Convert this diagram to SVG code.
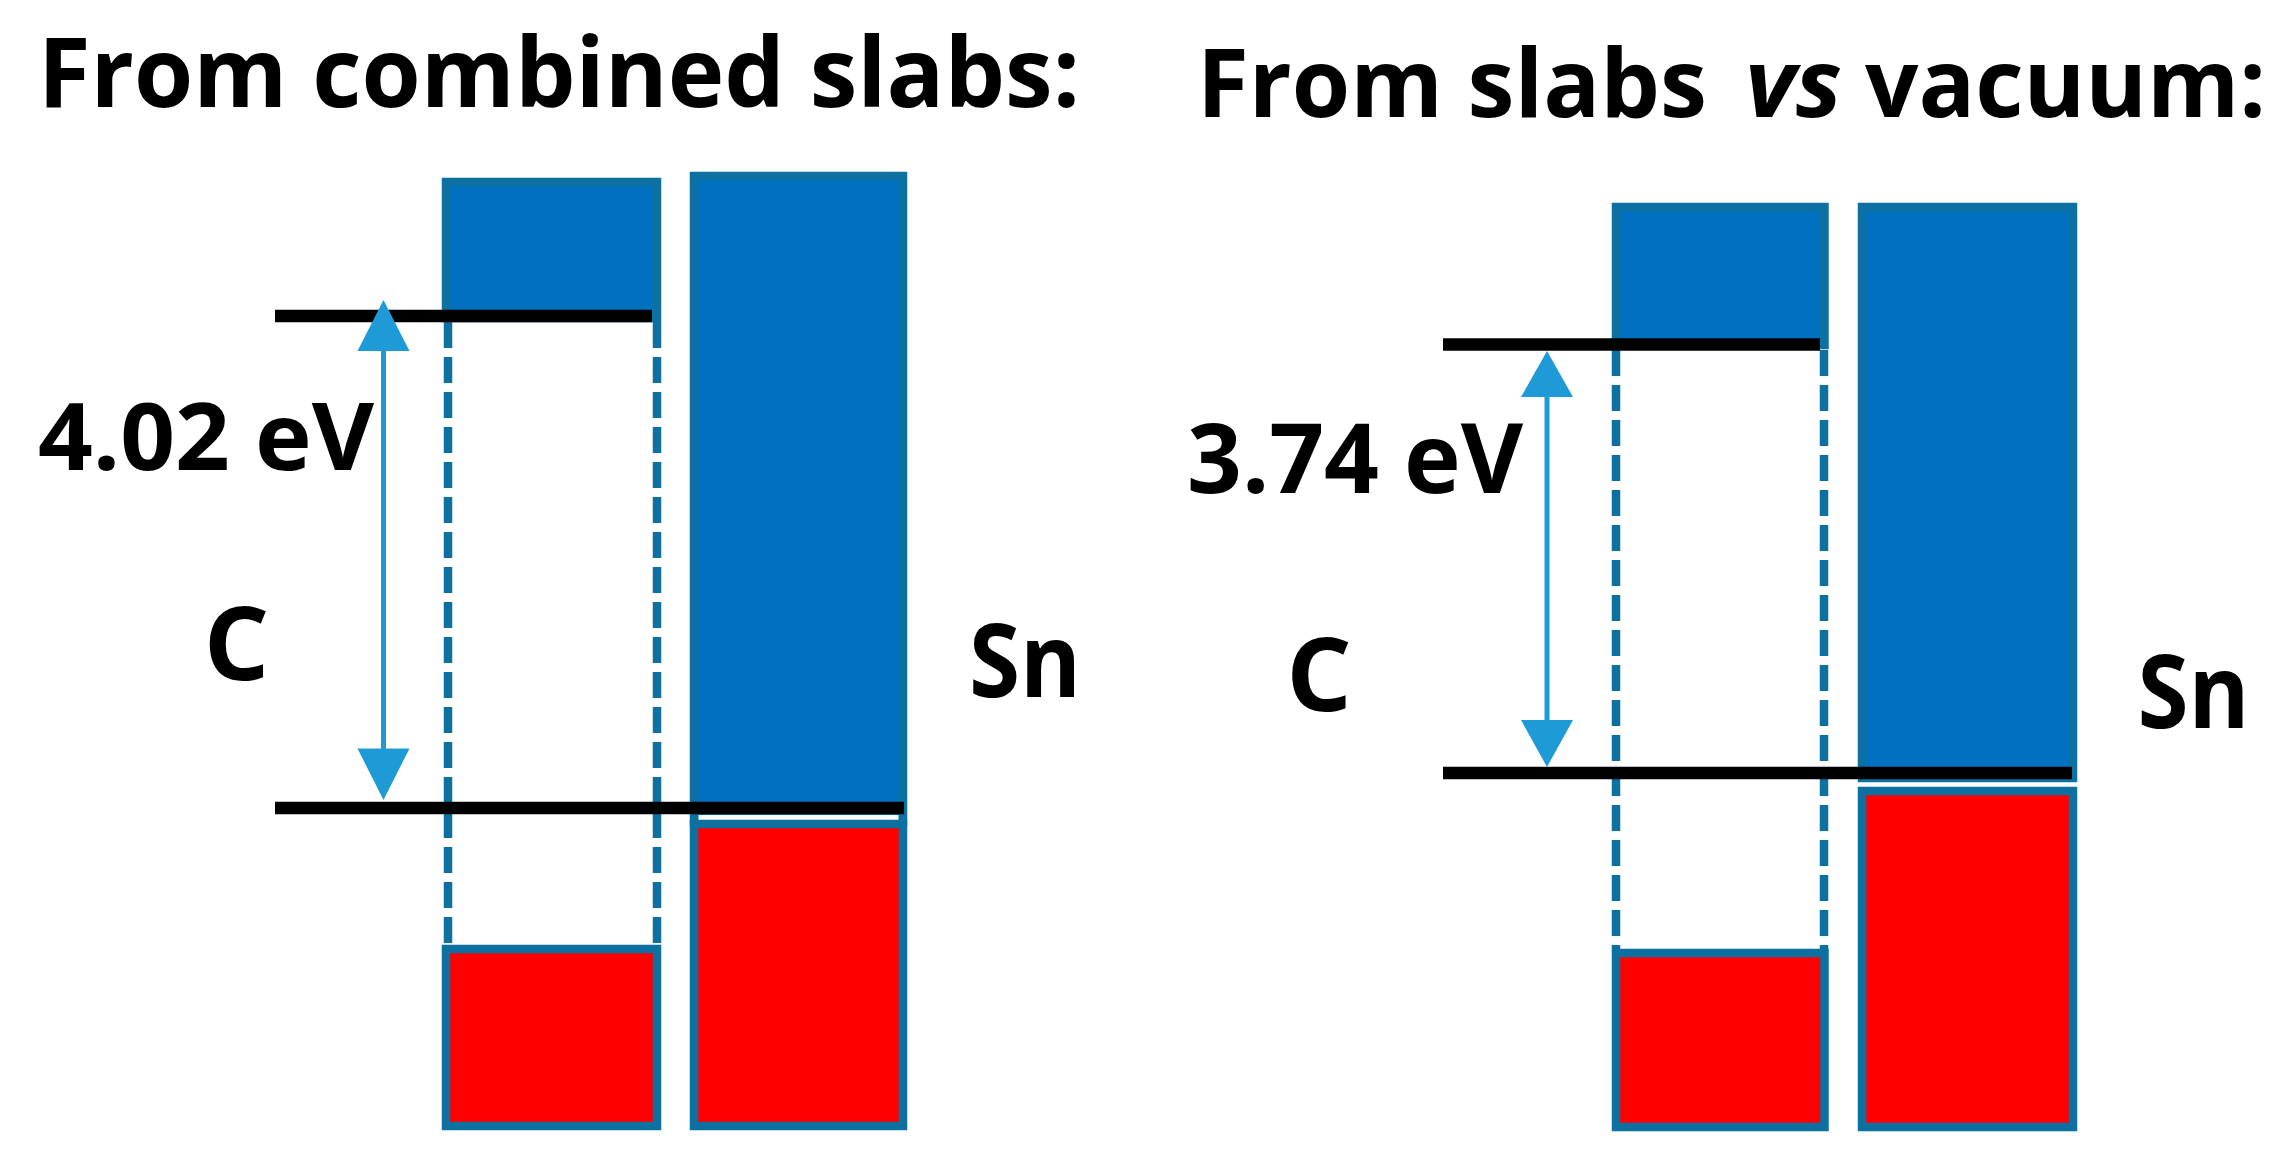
<svg xmlns="http://www.w3.org/2000/svg" width="2295" height="1165" viewBox="0 0 2295 1165">
<style>
.t{font-family:"Open Sans",Lato,"Liberation Sans",sans-serif;font-weight:bold;fill:#000}
.cb{fill:#0070C0;stroke:#0C71A0;stroke-width:8.5}
.vb{fill:#FF0000;stroke:#0C71A0;stroke-width:8.5}
.dash{stroke:#0C71A0;stroke-width:8.5;stroke-dasharray:26 9;fill:none}
.lvl{stroke:#000;stroke-width:12.5}
.arr{stroke:#1E9BD7;stroke-width:5}
.ah{fill:#1E9BD7}
</style>
<rect width="2295" height="1165" fill="#fff"/>

<g id="title-left"><text class="t" x="38" y="107" font-size="97" textLength="1042" lengthAdjust="spacingAndGlyphs">From combined slabs:</text></g>
<g id="title-right">
<text class="t" x="1197" y="117" font-size="95" textLength="510" lengthAdjust="spacingAndGlyphs">From slabs</text>
<text class="t" x="1745" y="117" font-size="95" font-style="italic" textLength="97" lengthAdjust="spacingAndGlyphs">vs</text>
<text class="t" x="1865" y="117" font-size="95" textLength="401" lengthAdjust="spacingAndGlyphs">vacuum:</text>
</g>

<!-- Left panel -->
<g id="left-C-conduction"><rect class="cb" x="446" y="182" width="211" height="136"/></g>
<g id="left-Sn-conduction"><rect class="cb" x="694" y="176" width="209" height="646"/><rect x="698.5" y="815" width="200" height="6" fill="#fff"/></g>
<g id="left-Sn-valence"><rect class="vb" x="694" y="824" width="209" height="302"/></g>
<g id="left-C-valence"><rect class="vb" x="446" y="949" width="211" height="177"/></g>
<g id="left-C-gap"><line class="dash" x1="448" y1="322" x2="448" y2="945"/><line class="dash" x1="657" y1="322" x2="657" y2="945"/></g>
<g id="left-levels"><line class="lvl" x1="275" y1="316" x2="652" y2="316"/><line class="lvl" x1="275" y1="808" x2="904" y2="808"/></g>

<!-- Right panel -->
<g id="right-C-conduction"><rect class="cb" x="1616" y="207" width="208.5" height="138"/></g>
<g id="right-Sn-conduction"><rect class="cb" x="1862" y="207" width="211" height="571"/></g>
<g id="right-Sn-valence"><rect class="vb" x="1862" y="791" width="211" height="336"/></g>
<g id="right-C-valence"><rect class="vb" x="1616" y="953" width="208.5" height="174"/></g>
<g id="right-C-gap"><line class="dash" x1="1616" y1="350" x2="1616" y2="949"/><line class="dash" x1="1824" y1="350" x2="1824" y2="949"/></g>
<g id="right-levels"><line class="lvl" x1="1443" y1="344.5" x2="1820" y2="344.5"/><line class="lvl" x1="1443" y1="773" x2="2072" y2="773"/></g>

<g id="connectors">
<line class="arr" x1="383.5" y1="345" x2="383.5" y2="755"/>
<polygon class="ah" points="383.5,300 357.5,351 409.5,351"/>
<polygon class="ah" points="383.5,800 357.5,748.5 409.5,748.5"/>
<line class="arr" x1="1547" y1="392" x2="1547" y2="725"/>
<polygon class="ah" points="1547,351 1521,397 1573,397"/>
<polygon class="ah" points="1547,767 1521,720 1573,720"/>
</g>

<g id="labels">
<text class="t" x="38" y="470" font-size="94" textLength="336" lengthAdjust="spacingAndGlyphs">4.02 eV</text>
<text class="t" x="236.5" y="680" font-size="103" text-anchor="middle">C</text>
<text class="t" x="1025" y="697" font-size="103" text-anchor="middle" textLength="112" lengthAdjust="spacingAndGlyphs">Sn</text>
<text class="t" x="1187" y="493" font-size="96" textLength="336" lengthAdjust="spacingAndGlyphs">3.74 eV</text>
<text class="t" x="1319" y="711" font-size="103" text-anchor="middle">C</text>
<text class="t" x="2193.5" y="728" font-size="103" text-anchor="middle" textLength="112" lengthAdjust="spacingAndGlyphs">Sn</text>
</g>
</svg>
